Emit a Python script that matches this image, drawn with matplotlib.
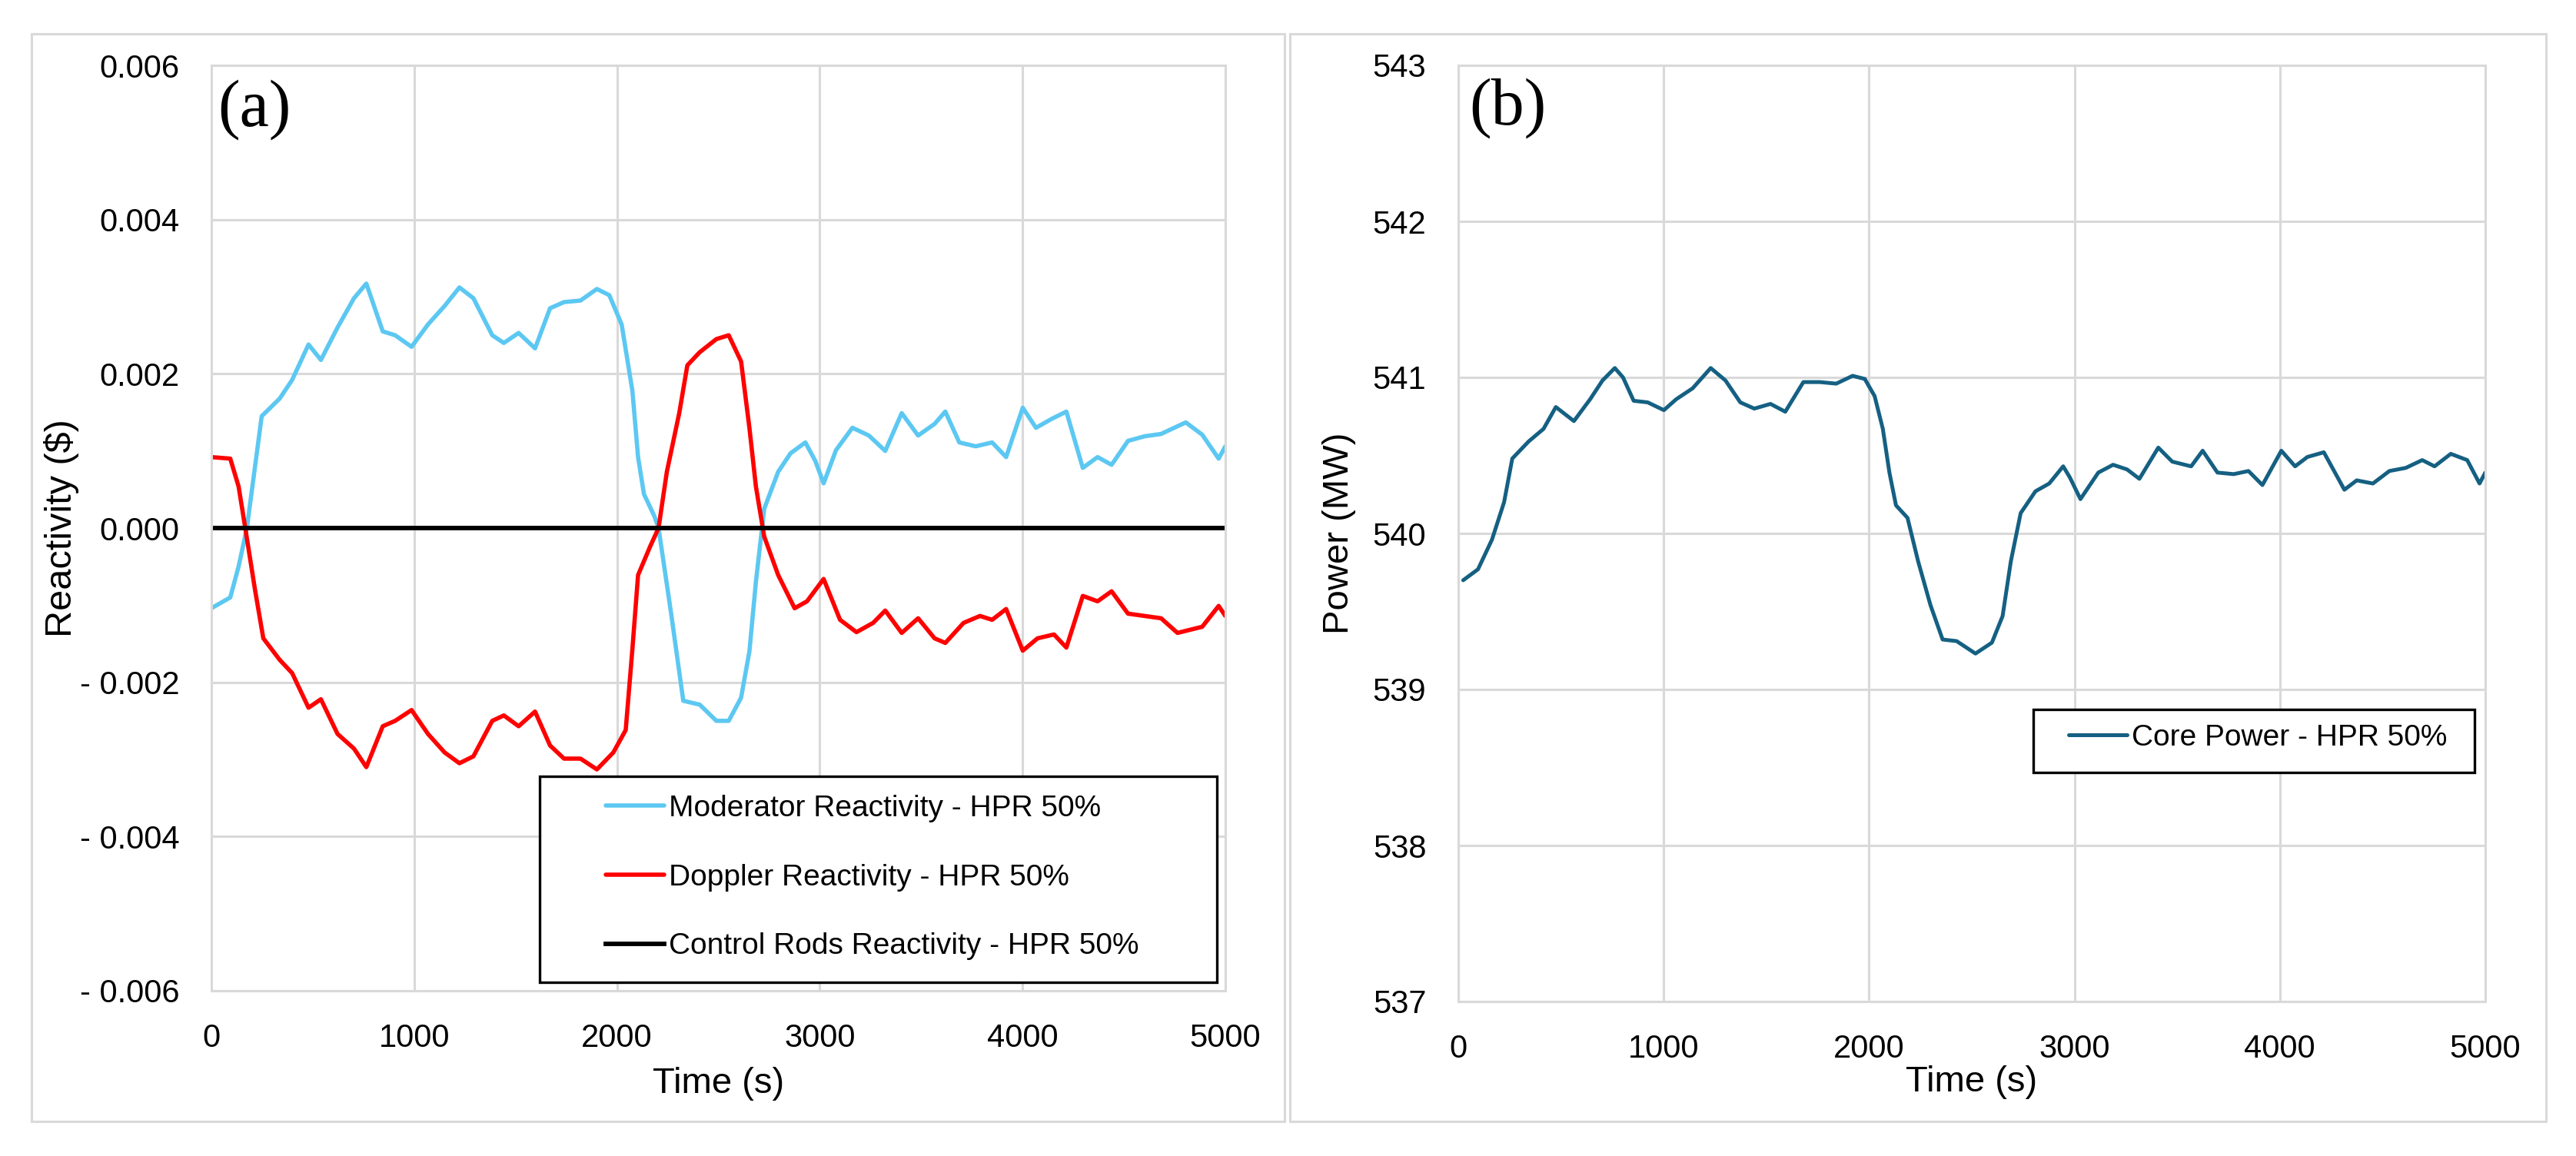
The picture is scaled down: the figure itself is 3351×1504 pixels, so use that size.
import numpy as np
import matplotlib
matplotlib.use("Agg")
import matplotlib.pyplot as plt
from matplotlib.patches import Rectangle
from matplotlib.ticker import FuncFormatter

# --- data ---
mod_t = [0, 93, 134, 175, 248, 337, 398, 479, 540, 622, 703, 764, 845, 906, 987,
         1068, 1150, 1223, 1292, 1385, 1442, 1515, 1596, 1670, 1739, 1820, 1901,
         1962, 2023, 2076, 2104, 2133, 2185, 2205, 2266, 2327, 2408, 2490, 2551,
         2612, 2653, 2685, 2726, 2795, 2856, 2929, 2978, 3019, 3080, 3161, 3242,
         3323, 3404, 3485, 3566, 3619, 3688, 3769, 3850, 3919, 4001, 4066, 4147,
         4216, 4297, 4370, 4439, 4520, 4602, 4683, 4805, 4886, 4967, 5000]
mod_r = [-0.00104, -0.0009, -0.0005, 0.0, 0.00145, 0.00168, 0.00192, 0.00238,
         0.00218, 0.0026, 0.00298, 0.00317, 0.00255, 0.0025, 0.00235, 0.00264,
         0.00288, 0.00312, 0.00298, 0.0025, 0.0024, 0.00253, 0.00233, 0.00285,
         0.00293, 0.00295, 0.0031, 0.00302, 0.00264, 0.00178, 0.00092, 0.00044,
         0.00015, 0.0, -0.00109, -0.00224, -0.00229, -0.0025, -0.0025, -0.0022,
         -0.0016, -0.0007, 0.00025, 0.00073, 0.00097, 0.00111, 0.00087, 0.00058,
         0.00101, 0.0013, 0.0012, 0.001, 0.00149, 0.0012, 0.00135, 0.00151,
         0.00111, 0.00106, 0.00111, 0.00092, 0.00156, 0.0013, 0.00142, 0.00151,
         0.00078, 0.00092, 0.00082, 0.00113, 0.00119, 0.00122, 0.00137, 0.00121,
         0.0009, 0.00106]

dop_t = [0, 93, 134, 167, 215, 256, 337, 398, 479, 540, 622, 703, 764, 845, 906,
         987, 1068, 1150, 1223, 1292, 1385, 1442, 1515, 1596, 1670, 1739, 1820,
         1901, 1982, 2043, 2076, 2104, 2165, 2205, 2246, 2307, 2347, 2408, 2490,
         2551, 2612, 2653, 2685, 2726, 2795, 2876, 2937, 3019, 3100, 3181, 3263,
         3323, 3404, 3485, 3566, 3619, 3709, 3790, 3850, 3919, 4001, 4074, 4155,
         4216, 4297, 4370, 4439, 4520, 4683, 4764, 4886, 4967, 5000]
dop_r = [0.00092, 0.0009, 0.00054, 0.0, -0.0008, -0.00143, -0.00171, -0.00188,
         -0.00233, -0.00222, -0.00267, -0.00286, -0.0031, -0.00257, -0.0025,
         -0.00236, -0.00267, -0.00291, -0.00305, -0.00296, -0.0025, -0.00243,
         -0.00257, -0.00238, -0.00282, -0.00299, -0.00299, -0.00313, -0.00291,
         -0.00262, -0.00157, -0.00061, -0.00023, 0.0, 0.00073, 0.00149, 0.00211,
         0.00228, 0.00245, 0.0025, 0.00216, 0.0013, 0.00054, -0.00011, -0.00061,
         -0.00104, -0.00095, -0.00066, -0.00119, -0.00135, -0.00123, -0.00107,
         -0.00136, -0.00117, -0.00143, -0.00149, -0.00123, -0.00114, -0.00119,
         -0.00105, -0.00159, -0.00143, -0.00138, -0.00155, -0.00088, -0.00095,
         -0.00082, -0.00111, -0.00117, -0.00136, -0.00128, -0.00101, -0.00114]

rod_t = [0, 5000]
rod_r = [0.0, 0.0]

pow_t = [24, 96, 164, 223, 263, 343, 415, 475, 563, 642, 702, 762, 802, 854, 922,
         1001, 1061, 1141, 1229, 1301, 1373, 1441, 1520, 1592, 1680, 1760, 1840,
         1920, 1979, 2027, 2067, 2099, 2131, 2187, 2239, 2299, 2358, 2426, 2518,
         2598, 2650, 2690, 2738, 2810, 2877, 2945, 2977, 3029, 3116, 3188, 3256,
         3316, 3408, 3476, 3568, 3624, 3696, 3775, 3847, 3915, 4007, 4074, 4134,
         4214, 4314, 4374, 4453, 4533, 4613, 4693, 4753, 4832, 4912, 4972, 5000]
pow_mw = [539.70, 539.77, 539.96, 540.20, 540.48, 540.59, 540.67, 540.81, 540.72,
          540.86, 540.98, 541.06, 541.00, 540.85, 540.84, 540.79, 540.86, 540.93,
          541.06, 540.98, 540.84, 540.80, 540.83, 540.78, 540.97, 540.97, 540.96,
          541.01, 540.99, 540.88, 540.67, 540.39, 540.18, 540.10, 539.82, 539.54,
          539.32, 539.31, 539.23, 539.30, 539.47, 539.82, 540.13, 540.27, 540.32,
          540.43, 540.36, 540.22, 540.39, 540.44, 540.41, 540.35, 540.55, 540.46,
          540.43, 540.53, 540.39, 540.38, 540.40, 540.31, 540.53, 540.43, 540.49,
          540.52, 540.28, 540.34, 540.32, 540.40, 540.42, 540.47, 540.43, 540.51,
          540.47, 540.32, 540.39]

x_ticks = [0, 1000, 2000, 3000, 4000, 5000]
react_ticks = [-0.006, -0.004, -0.002, 0.0, 0.002, 0.004, 0.006]
power_ticks = [537, 538, 539, 540, 541, 542, 543]

GRID = "#d9d9d9"
SANS = ["Liberation Sans", "DejaVu Sans"]
SERIF = ["Liberation Serif", "DejaVu Serif"]

W, H = 3351, 1504
fig = plt.figure(figsize=(W / 100, H / 100), dpi=100)

# panel frames
for x0, x1 in [(41, 1671), (1678, 3312)]:
    fig.patches.append(Rectangle((x0 / W, 1 - 1459 / H), (x1 - x0) / W, (1459 - 44) / H,
                                 transform=fig.transFigure, fill=False,
                                 edgecolor=GRID, lw=2.2))

ax1 = fig.add_axes([275 / W, 1 - 1289 / H, (1594 - 275) / W, (1289 - 85) / H])
ax2 = fig.add_axes([1897 / W, 1 - 1303 / H, (3233 - 1897) / W, (1303 - 85) / H])


def react_fmt(v, pos):
    s = "%.3f" % abs(v)
    return "- " + s if v < -1e-9 else s


for ax in (ax1, ax2):
    ax.set_xlim(0, 5000)
    ax.set_xticks(x_ticks)
    ax.grid(True, color=GRID, lw=2.2)
    ax.set_axisbelow(True)
    for sp in ax.spines.values():
        sp.set_color(GRID)
        sp.set_linewidth(2.2)
    ax.tick_params(length=0, labelsize=30, pad=30)
    ax.set_xlabel("Time (s)", fontsize=34, family=SANS)

# (a) reactivity
ax1.set_ylim(-0.006, 0.006)
ax1.set_yticks(react_ticks)
ax1.yaxis.set_major_formatter(FuncFormatter(react_fmt))
ax1.plot(mod_t, mod_r, color="#5CC8F2", lw=4.0, label="Moderator Reactivity - HPR 50%",
         solid_joinstyle="round", solid_capstyle="round")
ax1.plot(dop_t, dop_r, color="#FF0000", lw=4.0, label="Doppler Reactivity - HPR 50%",
         solid_joinstyle="round", solid_capstyle="round")
ax1.plot(rod_t, rod_r, color="black", lw=4.2, label="Control Rods Reactivity - HPR 50%")
ax1.set_ylabel("Reactivity ($)", fontsize=35, family=SANS)
ax1.yaxis.set_label_coords((103 - 275) / 1319, 0.5)
ax1.xaxis.set_label_coords(0.5, (1289 - 1388) / 1204)
ax1.text(0.006, 0.985, "(a)", transform=ax1.transAxes, va="top", ha="left",
         fontsize=62, family=SERIF)

# legend frame drawn by hand (702..1583 x 1010..1278 px)
ax1.add_patch(Rectangle(((702 - 275) / 1319, (1289 - 1278) / 1204),
                        (1583 - 702) / 1319, (1278 - 1010) / 1204,
                        transform=ax1.transAxes, facecolor="white",
                        edgecolor="black", lw=2.4, zorder=5))
leg1 = ax1.legend(loc="upper left", bbox_to_anchor=((788 - 275) / 1319, (1289 - 1034) / 1204),
                  frameon=False, handlelength=1.95, handletextpad=0.15,
                  labelspacing=1.38, borderpad=0, borderaxespad=0,
                  prop={"family": SANS, "size": 28})
leg1.set_zorder(6)

# (b) power
ax2.set_ylim(537, 543)
ax2.set_yticks(power_ticks)
ax2.plot(pow_t, pow_mw, color="#156082", lw=3.6, label="Core Power - HPR 50%",
         solid_joinstyle="round", solid_capstyle="round")
ax2.set_ylabel("Power (MW)", fontsize=34, family=SANS)
ax2.yaxis.set_label_coords((1764 - 1897) / 1336, 0.5)
ax2.xaxis.set_label_coords(0.5, (1303 - 1386) / 1218)
ax2.text(0.011, 0.987, "(b)", transform=ax2.transAxes, va="top", ha="left",
         fontsize=62, family=SERIF)

ax2.add_patch(Rectangle(((2645 - 1897) / 1336, (1303 - 1005) / 1218),
                        (3219 - 2645) / 1336, (1005 - 923) / 1218,
                        transform=ax2.transAxes, facecolor="white",
                        edgecolor="black", lw=2.4, zorder=5))
leg2 = ax2.legend(loc="upper left", bbox_to_anchor=((2691 - 1897) / 1336, (1303 - 942) / 1218),
                  frameon=False, handlelength=1.95, handletextpad=0.15,
                  borderpad=0, borderaxespad=0,
                  prop={"family": SANS, "size": 28})
leg2.set_zorder(6)

for ax in (ax1, ax2):
    for lab in ax.get_xticklabels() + ax.get_yticklabels():
        lab.set_family(SANS)

fig.savefig("out.png", dpi=100, facecolor="white")
